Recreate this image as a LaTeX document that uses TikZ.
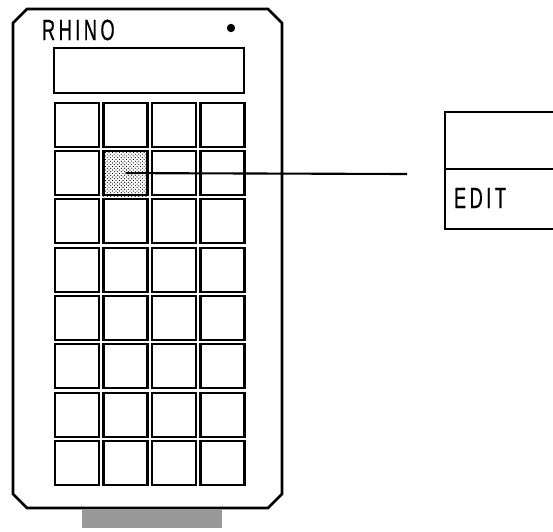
\documentclass[tikz,border=0pt]{standalone}
\usepackage{fontspec}
\setmainfont{Liberation Sans}
\usetikzlibrary{patterns, positioning}

\begin{document}
\begin{tikzpicture}[x=0.03cm, y=-0.03cm, line width=1.8pt,
  keybox/.style={draw, minimum width=1.32cm, minimum height=1.32cm, inner sep=0pt},
  lettering/.style={font=\fontsize{25}{25}\selectfont\addfontfeature{FakeStretch=0.62,FakeBold=0.6,LetterSpace=12}}]
  \useasboundingbox (0,0) rectangle (553,532);
  % rhino case
  \draw[line width=2.4pt] (27,9) -- (268,9) -- (282,23) -- (282,494) -- (268,508)
    -- (27,508) -- (13,494) -- (13,23) -- cycle;
  \fill[black!40] (82,509) rectangle (222,528);
  \node[lettering, anchor=west, inner sep=0pt] (brand) at (41,30) {RHINO};
  \node[circle, fill, inner sep=0pt, minimum size=0.25cm] (led) at (231,28) {};
  \node[draw, anchor=north west, minimum width=5.7cm, minimum height=1.35cm] (screen) at (53,47) {};
  % keys
  \foreach \r in {1,...,8}
    \foreach \c in {1,...,4}
      \node[keybox] (k\r\c) at ({28.5+48.5*\c}, {76.5+48.3*\r}) {};
  \path[pattern=crosshatch dots] (k22.south west) rectangle (k22.north east);
  % menu
  \draw (553,112) -- (445,112) -- (445,229) -- (553,229);
  \draw (445,169) -- (553,169);
  \node[lettering, anchor=west, inner sep=0pt] (edit) at (453,198) {EDIT};
  \coordinate (cable) at (407,174);
  \draw (k22.center) -- (cable);
\end{tikzpicture}
\end{document}
